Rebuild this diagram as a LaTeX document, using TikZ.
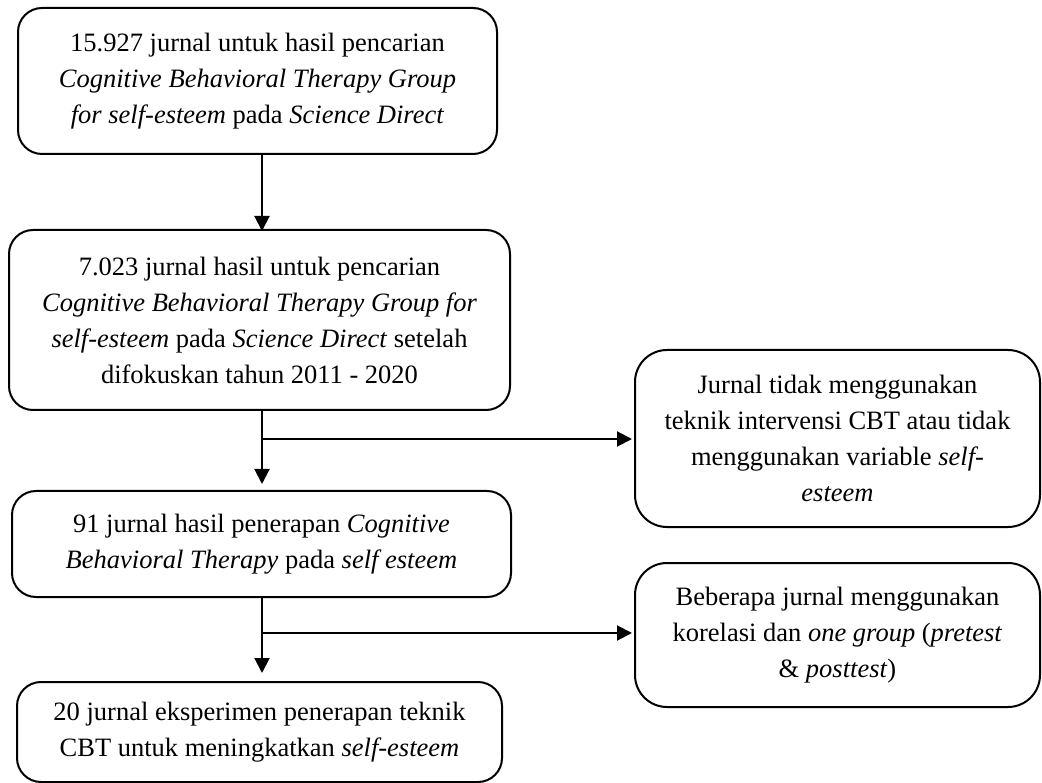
\documentclass[tikz,border=0pt]{standalone}
\usepackage{fontspec}
\setmainfont{Liberation Serif}
\usetikzlibrary{arrows.meta}
\tikzset{
  lbox/.style={draw=black, line width=2pt, rounded corners=24pt, align=center, inner sep=0pt,
    font=\fontsize{26.5}{36}\selectfont},
  rbox/.style={lbox, rounded corners=32pt},
  arr/.style={line width=2pt, -{Triangle[length=15pt,width=15pt]}},
  seg/.style={line width=2pt}
}
\begin{document}
\begin{tikzpicture}[x=1pt,y=-1pt]
\useasboundingbox (0,0) rectangle (1042,783);
\node[lbox, minimum width=479pt, minimum height=146pt] (b1) at (257.5,81)
  {15.927 jurnal untuk hasil pencarian\\ \textit{Cognitive Behavioral Therapy Group}\\ \textit{for self-esteem} pada \textit{Science Direct}};
\node[lbox, minimum width=501pt, minimum height=180pt] (b2) at (259.5,320)
  {7.023 jurnal hasil untuk pencarian\\ \textit{Cognitive Behavioral Therapy Group for}\\ \textit{self-esteem} pada \textit{Science Direct} setelah\\ difokuskan tahun 2011 - 2020};
\node[lbox, minimum width=499pt, minimum height=106pt] (b3) at (261.5,544)
  {91 jurnal hasil penerapan \textit{Cognitive}\\ \textit{Behavioral Therapy} pada \textit{self esteem}};
\node[lbox, minimum width=485pt, minimum height=100pt] (b4) at (259.5,732)
  {20 jurnal eksperimen penerapan teknik\\ CBT untuk meningkatkan \textit{self-esteem}};
\node[rbox, minimum width=405pt, minimum height=177pt] (r1) at (837.5,438.5)
  {Jurnal tidak menggunakan\\ teknik intervensi CBT atau tidak\\ menggunakan variable \textit{self-}\\ \textit{esteem}};
\node[rbox, minimum width=405pt, minimum height=144pt] (r2) at (837.5,635)
  {Beberapa jurnal menggunakan\\ korelasi dan \textit{one group} (\textit{pretest}\\ \& \textit{posttest})};
\coordinate (ax) at (262,0);
\coordinate (j1) at (262,439);
\coordinate (j2) at (262,633);
\draw[arr] (b1.south -| ax) -- ([yshift=-2pt]b2.north -| ax);
\draw[arr, shorten >=6pt] (b2.south -| ax) -- (b3.north -| ax);
\draw[arr, shorten >=8pt] (b3.south -| ax) -- (b4.north -| ax);
\draw[arr, shorten >=2pt] (j1) -- (j1 -| r1.west);
\draw[arr, shorten >=2pt] (j2) -- (j2 -| r2.west);
\end{tikzpicture}
\end{document}
